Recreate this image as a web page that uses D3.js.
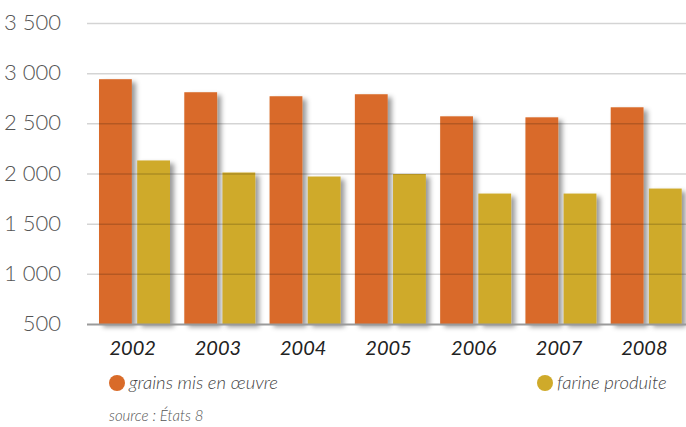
<!DOCTYPE html>
<html>
<head>
<meta charset="utf-8">
<script src="https://cdn.jsdelivr.net/npm/d3@7"></script>
<style>
  body { margin: 0; background: #fff; }
  svg { display: block; font-family: Lato, "Open Sans", sans-serif; }
</style>
</head>
<body>
<svg width="686" height="427"></svg>
<script>
// data
var years = ["2002", "2003", "2004", "2005", "2006", "2007", "2008"];
var grains = [2940, 2810, 2770, 2790, 2570, 2560, 2660];
var farine = [2130, 2010, 1970, 1995, 1800, 1800, 1850];
var seriesNames = ["grains mis en œuvre", "farine produite"];
var yTicks = [500, 1000, 1500, 2000, 2500, 3000, 3500];

var colors = ["#d96b29", "#cfaa2a"];

// plot area (note: "top" is reserved on window, so use other names)
var plotLeft = 87, plotRight = 686;
var plotTop = 23, plotBottom = 324;

var svg = d3.select("svg");

// drop shadow for the bars
var defs = svg.append("defs");
var f = defs.append("filter").attr("id", "shadow")
    .attr("x", "-20%").attr("y", "-10%").attr("width", "160%").attr("height", "130%");
f.append("feDropShadow")
    .attr("dx", 4).attr("dy", 3).attr("stdDeviation", 2.5)
    .attr("flood-color", "#000").attr("flood-opacity", 0.4);

var yScale = d3.scaleLinear().domain([500, 3500]).range([plotBottom, plotTop]);
var x0 = d3.scaleBand().domain(years).range([92, 689]);
var x1 = d3.scaleBand().domain([0, 1]).range([7, 78]).paddingInner(0.14);

var rows = years.map(function(y, i) {
    return { year: y, vals: [grains[i], farine[i]] };
});

var groups = svg.append("g").selectAll("g")
    .data(rows)
    .enter().append("g")
    .attr("transform", d => `translate(${x0(d.year)},0)`);

groups.selectAll("rect")
    .data(d => d.vals.map((v, k) => ({ k: k, v: v })))
    .enter().append("rect")
    .attr("x", d => x1(d.k))
    .attr("y", d => yScale(d.v))
    .attr("width", x1.bandwidth())
    .attr("height", d => plotBottom - yScale(d.v))
    .attr("fill", d => colors[d.k])
    .attr("filter", "url(#shadow)");

// grid lines drawn on top of the bars
var fr = d3.formatLocale({ decimal: ",", thousands: " ", grouping: [3], currency: ["", "€"] });
var yAxis = d3.axisLeft(yScale)
    .tickValues(yTicks)
    .tickSize(-(plotRight - plotLeft))
    .tickPadding(26)
    .tickFormat(fr.format(",d"));

var ga = svg.append("g")
    .attr("transform", `translate(${plotLeft},0)`)
    .call(yAxis);
ga.select(".domain").remove();
ga.selectAll(".tick line")
    .attr("stroke", d => d === 500 ? "#9a9a9a" : "rgba(0,0,0,0.17)")
    .attr("stroke-width", d => d === 500 ? 2 : 1.5);
ga.selectAll(".tick text")
    .attr("fill", "#555")
    .attr("font-family", "Lato")
    .attr("font-size", 22)
    .attr("font-weight", 300)
    .attr("dy", "0.3em");

// year labels
var xAxis = d3.axisBottom(x0).tickSize(0).tickPadding(14);
var gx = svg.append("g")
    .attr("transform", `translate(-2,${plotBottom})`)
    .call(xAxis);
gx.select(".domain").remove();
gx.selectAll(".tick text")
    .attr("fill", "#222")
    .attr("font-family", "Lato")
    .attr("font-size", 20)
    .attr("font-style", "italic")
    .attr("dy", "0.85em");

// legend
var legendX = [117, 545];
var legend = svg.append("g").selectAll("g")
    .data(seriesNames)
    .enter().append("g")
    .attr("transform", (d, i) => `translate(${legendX[i]},383)`);
legend.append("circle")
    .attr("r", 8)
    .attr("fill", (d, i) => colors[i]);
legend.append("text")
    .attr("x", 12)
    .attr("dy", "0.35em")
    .attr("fill", "#444")
    .attr("font-size", 18.5)
    .attr("font-style", "italic")
    .attr("font-weight", 300)
    .text(d => d);

svg.append("text")
    .attr("x", 109)
    .attr("y", 421)
    .attr("fill", "#555")
    .attr("font-size", 15)
    .attr("font-style", "italic")
    .attr("font-weight", 300)
    .text("source : États 8");
</script>
</body>
</html>
